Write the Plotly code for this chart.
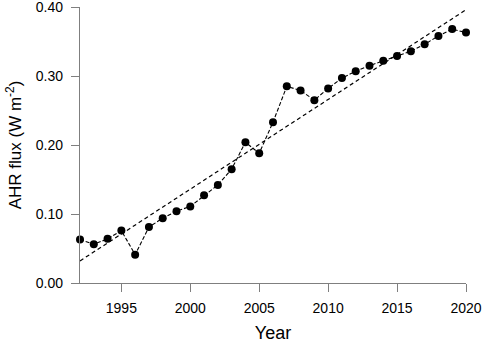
import plotly.graph_objects as go

years = list(range(1992, 2021))
ahr_flux = [0.063, 0.056, 0.064, 0.076, 0.041, 0.081, 0.094, 0.104, 0.111, 0.127,
            0.142, 0.165, 0.204, 0.188, 0.233, 0.285, 0.279, 0.265, 0.282, 0.297,
            0.307, 0.315, 0.322, 0.329, 0.336, 0.346, 0.358, 0.368, 0.363]
trend_years = [1992, 2020]
trend_values = [0.032, 0.396]
x_ticks = [1995, 2000, 2005, 2010, 2015, 2020]
y_ticks = [0.0, 0.1, 0.2, 0.3, 0.4]

fig = go.Figure()
fig.add_trace(go.Scatter(
    x=trend_years, y=trend_values, mode="lines",
    line=dict(color="black", width=1.2, dash="4px,3px"),
    cliponaxis=False, showlegend=False, hoverinfo="skip"))
fig.add_trace(go.Scatter(
    x=years, y=ahr_flux, mode="lines+markers",
    line=dict(color="black", width=1.1, dash="4px,2px"),
    marker=dict(color="black", size=8),
    cliponaxis=False, showlegend=False))

font = "Liberation Sans, Arial, sans-serif"
fig.update_layout(
    width=484, height=343,
    margin=dict(l=80, r=18, t=7, b=60),
    plot_bgcolor="white", paper_bgcolor="white",
    font=dict(family=font, color="black", size=14),
)
fig.update_xaxes(
    range=[1992, 2020], tickvals=x_ticks, ticktext=[str(v) for v in x_ticks],
    showline=True, linecolor="#7f7f7f", linewidth=1.3,
    ticks="outside", ticklen=8, tickcolor="#7f7f7f", tickwidth=1.3,
    showgrid=False, zeroline=False, automargin=False, ticklabeloverflow="allow",
    ticklabelstandoff=4,
    tickfont=dict(size=14, family=font),
    title=dict(text="Year", font=dict(size=18, family=font), standoff=15),
)
fig.update_yaxes(
    range=[0, 0.4], tickvals=y_ticks, ticktext=[f"{v:.2f}" for v in y_ticks],
    showline=True, linecolor="#7f7f7f", linewidth=1.3,
    ticks="outside", ticklen=8, tickcolor="#7f7f7f", tickwidth=1.3,
    showgrid=False, zeroline=False, automargin=False, ticklabeloverflow="allow",
    ticklabelstandoff=5,
    tickfont=dict(size=14, family=font),
    title=dict(text="AHR flux (W m<sup>-2</sup>)", font=dict(size=17, family=font), standoff=9),
)
fig.write_html("out.html", config={"displayModeBar": False},
               post_script="document.body.style.margin='0';document.body.style.overflow='hidden';")
